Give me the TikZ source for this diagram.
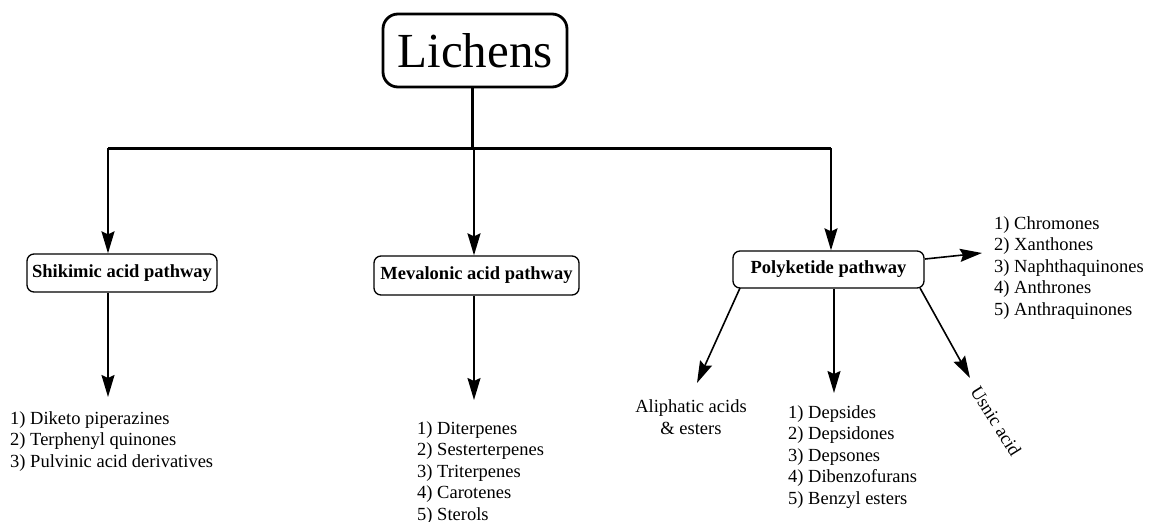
\documentclass[tikz,border=0pt]{standalone}
\usepackage{fontspec}
\setmainfont{Liberation Serif}
\usetikzlibrary{arrows.meta}
\begin{document}
\begin{tikzpicture}[x=1pt,y=-1pt,
  pbox/.style={draw,line width=1.3pt,rounded corners=7pt,font=\fontsize{18.5}{21.5}\selectfont\bfseries,inner sep=0pt,align=center},
  lst/.style={font=\fontsize{18.5}{21.5}\selectfont,inner sep=0pt,align=left,anchor=north west},
  arr/.style={line width=1.6pt,-{Stealth[length=22pt,width=13pt,inset=3pt]}},
  toparr/.style={line width=2pt,-{Stealth[length=22pt,width=13pt,inset=3pt]}},
  trunk/.style={line width=3pt}]
\useasboundingbox (0,0) rectangle (1152,522);
% main node
\node[draw,line width=2.8pt,rounded corners=15pt,minimum width=184pt,minimum height=73pt,inner sep=0pt,
  font=\fontsize{49}{52}\selectfont] (lich) at (475,50.5) {Lichens};
% pathway boxes
\node[pbox,minimum width=190pt,minimum height=38pt] (shik) at (122,273) {Shikimic acid pathway};
\node[pbox,minimum width=205pt,minimum height=39pt] (meva) at (476.5,275.5) {Mevalonic acid pathway};
\node[pbox,minimum width=191pt,minimum height=37pt] (poly) at (828.5,269.5) {Polyketide pathway};
% junction coordinates
\coordinate (jm) at (472,148);
\coordinate (j1) at (108,148);
\coordinate (j2) at (474,148);
\coordinate (j3) at (831,148);
\draw[trunk] (lich.south -| jm) -- (jm);
\draw[trunk] (j1) -- (j3);
\draw[toparr] (j1) -- (j1 |- shik.north);
\draw[toparr] (j2) -- (j2 |- meva.north);
\draw[toparr] (j3) -- (j3 |- poly.north);
% lists
\node[lst] (l1) at (10,411) {1) Diketo piperazines\\2) Terphenyl quinones\\3) Pulvinic acid derivatives};
\node[lst] (l2) at (417,421) {1) Diterpenes\\2) Sesterterpenes\\3) Triterpenes\\4) Carotenes\\5) Sterols};
\node[lst] (l3) at (994,216) {1) Chromones\\2) Xanthones\\3) Naphthaquinones\\4) Anthrones\\5) Anthraquinones};
\node[lst] (l4) at (788,405) {1) Depsides\\2) Depsidones\\3) Depsones\\4) Dibenzofurans\\5) Benzyl esters};
\node[font=\fontsize{18.5}{21.5}\selectfont,inner sep=0pt,align=center] (l5) at (691,417) {Aliphatic acids\\\& esters};
\node[font=\fontsize{18.5}{21.5}\selectfont,inner sep=0pt,rotate=-58] (l6) at (996,421) {Usnic acid};
% arrow tips
\coordinate (t1) at (108,397);
\coordinate (t2) at (474,400);
\coordinate (t3) at (982,253);
\coordinate (t4s) at (740,288);
\coordinate (t4) at (697,383);
\coordinate (t5) at (834,393);
\coordinate (t6s) at (920,288);
\coordinate (t6) at (970,378);
\coordinate (t3s) at (925,259);
\draw[arr] (t1 |- shik.south) -- (t1);
\draw[arr] (t2 |- meva.south) -- (t2);
\draw[arr] (t3s) -- (t3);
\draw[arr] (t4s) -- (t4);
\draw[arr] (t5 |- poly.south) -- (t5);
\draw[arr] (t6s) -- (t6);
\end{tikzpicture}
\end{document}
